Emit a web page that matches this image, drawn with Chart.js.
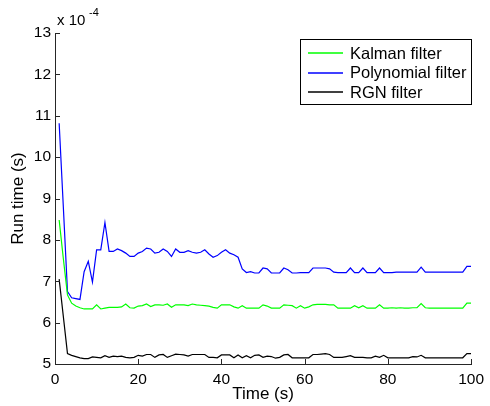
<!DOCTYPE html>
<html>
<head>
<meta charset="utf-8">
<script src="https://cdn.jsdelivr.net/npm/chart.js@4.4.1/dist/chart.umd.min.js"></script>
<style>
  html, body { margin: 0; padding: 0; background: #fff; }
  #wrap { width: 490px; height: 406px; }
</style>
</head>
<body>
<div id="wrap"><canvas id="chart" width="490" height="406"></canvas></div>
<script>
// time axis (s), one sample per second
const timeS = [];
for (let t = 1; t <= 100; t++) timeS.push(t);

// run times, in units of 1e-4 s
const kalman = [
  8.48, 7.55, 6.67, 6.47, 6.40, 6.36, 6.33, 6.33, 6.33, 6.43,
  6.33, 6.35, 6.37, 6.37, 6.37, 6.38, 6.45, 6.36, 6.35, 6.40,
  6.41, 6.45, 6.39, 6.43, 6.43, 6.42, 6.45, 6.37, 6.43, 6.43,
  6.43, 6.41, 6.45, 6.43, 6.42, 6.41, 6.40, 6.37, 6.35, 6.43,
  6.43, 6.43, 6.38, 6.35, 6.41, 6.35, 6.35, 6.35, 6.35, 6.43,
  6.40, 6.35, 6.35, 6.35, 6.43, 6.42, 6.41, 6.35, 6.41, 6.35,
  6.38, 6.43, 6.44, 6.44, 6.44, 6.43, 6.43, 6.35, 6.35, 6.35,
  6.35, 6.41, 6.36, 6.41, 6.35, 6.35, 6.35, 6.43, 6.35, 6.35,
  6.36, 6.35, 6.36, 6.35, 6.35, 6.36, 6.36, 6.46, 6.36, 6.35,
  6.35, 6.35, 6.35, 6.35, 6.35, 6.35, 6.35, 6.35, 6.47, 6.47
];
const polynomial = [
  10.82, 8.80, 6.75, 6.60, 6.58, 6.56, 7.23, 7.48, 6.98, 7.76,
  7.76, 8.42, 7.72, 7.72, 7.78, 7.74, 7.68, 7.60, 7.60, 7.68,
  7.72, 7.80, 7.78, 7.68, 7.70, 7.78, 7.72, 7.60, 7.78, 7.70,
  7.70, 7.74, 7.70, 7.68, 7.70, 7.76, 7.66, 7.58, 7.62, 7.70,
  7.76, 7.68, 7.64, 7.58, 7.30, 7.21, 7.23, 7.20, 7.20, 7.32,
  7.30, 7.20, 7.20, 7.20, 7.32, 7.28, 7.20, 7.20, 7.21, 7.21,
  7.21, 7.32, 7.32, 7.32, 7.32, 7.30, 7.22, 7.21, 7.21, 7.21,
  7.32, 7.21, 7.21, 7.32, 7.21, 7.21, 7.21, 7.32, 7.21, 7.21,
  7.21, 7.22, 7.22, 7.22, 7.22, 7.22, 7.22, 7.34, 7.22, 7.22,
  7.22, 7.22, 7.22, 7.22, 7.22, 7.22, 7.22, 7.22, 7.36, 7.36
];
const rgn = [
  7.05, 6.15, 5.25, 5.21, 5.18, 5.15, 5.13, 5.13, 5.17, 5.16,
  5.15, 5.20, 5.16, 5.19, 5.18, 5.19, 5.16, 5.15, 5.16, 5.21,
  5.19, 5.23, 5.23, 5.16, 5.22, 5.23, 5.16, 5.20, 5.24, 5.23,
  5.22, 5.19, 5.23, 5.23, 5.23, 5.23, 5.16, 5.16, 5.15, 5.22,
  5.22, 5.22, 5.15, 5.22, 5.15, 5.20, 5.15, 5.21, 5.22, 5.16,
  5.19, 5.18, 5.14, 5.16, 5.22, 5.23, 5.15, 5.15, 5.15, 5.15,
  5.15, 5.23, 5.23, 5.24, 5.25, 5.23, 5.16, 5.16, 5.16, 5.18,
  5.20, 5.16, 5.16, 5.16, 5.15, 5.15, 5.19, 5.16, 5.21, 5.15,
  5.15, 5.15, 5.15, 5.15, 5.15, 5.18, 5.17, 5.21, 5.15, 5.15,
  5.15, 5.15, 5.15, 5.15, 5.15, 5.15, 5.15, 5.15, 5.25, 5.25
];

const seriesNames = ['Kalman filter', 'Polynomial filter', 'RGN filter'];
const seriesColors = ['#00ff00', '#0000ff', '#000000'];
const xTicks = [0, 20, 40, 60, 80, 100];
const yTicks = [5, 6, 7, 8, 9, 10, 11, 12, 13];

const FONT = '"Liberation Sans", Arial, sans-serif';

function toPoints(values) {
  return values.map((v, i) => ({ x: timeS[i], y: v }));
}

// inward tick marks like the original plot
const inwardTicks = {
  id: 'inwardTicks',
  afterDatasetsDraw(chart) {
    const { ctx, chartArea, scales } = chart;
    ctx.save();
    ctx.strokeStyle = '#262626';
    ctx.lineWidth = 1;
    ctx.beginPath();
    xTicks.forEach(v => {
      const px = Math.round(scales.x.getPixelForValue(v)) + 0.5;
      ctx.moveTo(px, chartArea.bottom);
      ctx.lineTo(px, chartArea.bottom - 5);
    });
    yTicks.forEach(v => {
      const py = Math.round(scales.y.getPixelForValue(v)) + 0.5;
      ctx.moveTo(chartArea.left, py);
      ctx.lineTo(chartArea.left + 5, py);
    });
    ctx.stroke();

    // exponent label
    ctx.fillStyle = '#000';
    ctx.textBaseline = 'alphabetic';
    ctx.font = '15px ' + FONT;
    ctx.fillText('x 10', chartArea.left + 2, chartArea.top - 8);
    ctx.font = '11px ' + FONT;
    ctx.fillText('-4', chartArea.left + 34, chartArea.top - 17);
    ctx.restore();
  }
};

// boxed legend in the top right corner
const boxLegend = {
  id: 'boxLegend',
  afterDraw(chart) {
    const { ctx } = chart;
    const bx = 300.5, by = 39.5, bw = 171, bh = 65;
    ctx.save();
    ctx.fillStyle = '#fff';
    ctx.fillRect(bx, by, bw, bh);
    ctx.strokeStyle = '#000';
    ctx.lineWidth = 1;
    ctx.strokeRect(bx, by, bw, bh);
    ctx.font = '16.5px ' + FONT;
    ctx.textBaseline = 'middle';
    seriesNames.forEach((name, i) => {
      const y = 53 + i * 19.5;
      ctx.strokeStyle = seriesColors[i];
      ctx.lineWidth = 1.4;
      ctx.beginPath();
      ctx.moveTo(308, Math.round(y));
      ctx.lineTo(343, Math.round(y));
      ctx.stroke();
      ctx.fillStyle = '#000';
      ctx.fillText(name, 350, y + 1);
    });
    ctx.restore();
  }
};

new Chart(document.getElementById('chart'), {
  type: 'line',
  data: {
    datasets: [kalman, polynomial, rgn].map((vals, i) => ({
      label: seriesNames[i],
      data: toPoints(vals),
      borderColor: seriesColors[i],
      backgroundColor: seriesColors[i],
      borderWidth: 1.2,
      pointRadius: 0,
      tension: 0,
      fill: false
    }))
  },
  options: {
    responsive: false,
    animation: false,
    events: [],
    layout: { padding: { left: 0, top: 33, right: 13, bottom: 0 } },
    plugins: {
      legend: { display: false },
      tooltip: { enabled: false }
    },
    scales: {
      x: {
        type: 'linear',
        min: 0,
        max: 100,
        afterFit(scale) { scale.height = 42; },
        afterBuildTicks(scale) { scale.ticks = xTicks.map(v => ({ value: v })); },
        grid: { display: true, drawOnChartArea: false, drawTicks: false },
        border: { display: true, color: '#262626', width: 1 },
        ticks: { color: '#000', padding: 6, maxRotation: 0, font: { family: FONT, size: 15.5 } },
        title: {
          display: true,
          text: 'Time (s)',
          color: '#000',
          padding: { top: 0, bottom: 1 },
          font: { family: FONT, size: 17 }
        }
      },
      y: {
        type: 'linear',
        min: 5,
        max: 13,
        afterFit(scale) { scale.width = 55; },
        afterBuildTicks(scale) { scale.ticks = yTicks.map(v => ({ value: v })); },
        grid: { display: true, drawOnChartArea: false, drawTicks: false },
        border: { display: true, color: '#262626', width: 1 },
        ticks: { color: '#000', padding: 4, font: { family: FONT, size: 15.5 } },
        title: {
          display: true,
          text: 'Run time (s)',
          color: '#000',
          padding: { top: 8, bottom: 0 },
          font: { family: FONT, size: 17 }
        }
      }
    }
  },
  plugins: [inwardTicks, boxLegend]
});
</script>
</body>
</html>
